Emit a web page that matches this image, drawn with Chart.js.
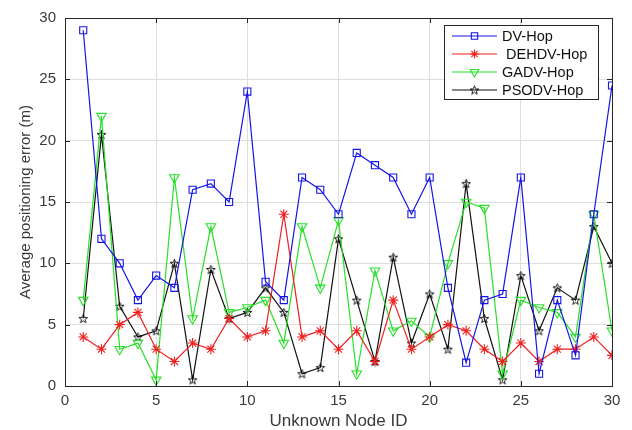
<!DOCTYPE html>
<html>
<head>
<meta charset="utf-8">
<script src="https://cdn.jsdelivr.net/npm/chart.js@4.4.0/dist/chart.umd.min.js"></script>
<style>
  html, body { margin: 0; padding: 0; background: #fff; }
  #wrap { width: 632px; height: 430px; }
</style>
</head>
<body>
<div id="wrap"><canvas id="chart"></canvas></div>
<script>
const nodeIds = [1, 2, 3, 4, 5, 6, 7, 8, 9, 10, 11, 12, 13, 14, 15, 16, 17, 18, 19, 20, 21, 22, 23, 24, 25, 26, 27, 28, 29, 30];
const dvHop = [29, 12, 10, 7, 9, 8, 16, 16.5, 15, 24, 8.5, 7, 17, 16, 14, 19, 18, 17, 14, 17, 8, 1.9, 7, 7.5, 17, 1, 7, 2.5, 14, 24.5];
const dehdvHop = [4, 3, 5, 6, 3, 2, 3.5, 3, 5.5, 4, 4.5, 14, 4, 4.5, 3, 4.5, 2, 7, 3, 4, 5, 4.5, 3, 2, 3.5, 2, 3, 3, 4, 2.5];
const gadvHop = [7, 22, 3, 3.5, 0.5, 17, 5.5, 13, 6, 6.4, 7, 3.5, 13, 8, 13.5, 1, 9.4, 4.5, 5.3, 4, 10, 15, 14.5, 1, 7, 6.4, 6, 4, 14, 4.5];
const psodvHop = [5.5, 20.5, 6.5, 4, 4.5, 10, 0.5, 9.5, 5.5, 6, 8, 6, 1, 1.5, 12, 7, 2, 10.5, 3.5, 7.5, 3, 16.5, 5.5, 0.5, 9, 4.5, 8, 7, 13, 10];
const seriesNames = ["DV-Hop", " DEHDV-Hop", "GADV-Hop", "PSODV-Hop"];

const axisColor = "#262626";
const textColor = "#3a3a3a";
const fontFamily = "'Liberation Sans', Arial, sans-serif";

// pentagram marker (unfilled), like matlab 'p'
function makePentagram(color) {
  const cv = document.createElement("canvas");
  cv.width = 11; cv.height = 11;
  const c = cv.getContext("2d");
  c.strokeStyle = color;
  c.lineWidth = 0.9;
  c.beginPath();
  for (let i = 0; i < 10; i++) {
    const r = i % 2 === 0 ? 4.6 : 1.9;
    const a = -Math.PI / 2 + i * Math.PI / 5;
    const px = 5.5 + r * Math.cos(a), py = 5.9 + r * Math.sin(a);
    if (i === 0) c.moveTo(px, py); else c.lineTo(px, py);
  }
  c.closePath();
  c.stroke();
  return cv;
}
const pentagram = makePentagram("#000");

const toPoints = (arr) => nodeIds.map((id, i) => ({ x: id, y: arr[i] }));

const styles = [
  { color: "#1414e6", pointStyle: "rect", radius: 5, rotation: 0 },
  { color: "#f01e1e", pointStyle: "star", radius: 5, rotation: 0 },
  { color: "#28e028", pointStyle: "triangle", radius: 5.5, rotation: 180 },
  { color: "#111111", pointStyle: pentagram, radius: 5, rotation: 0 },
];
const values = [dvHop, dehdvHop, gadvHop, psodvHop];

const datasets = values.map((v, i) => ({
  label: seriesNames[i].trim(),
  data: toPoints(v),
  borderColor: styles[i].color,
  backgroundColor: "rgba(0,0,0,0)",
  borderWidth: 1.2,
  pointStyle: styles[i].pointStyle,
  pointRadius: styles[i].radius,
  pointRotation: styles[i].rotation,
  pointBorderWidth: 1.1,
  pointBorderColor: styles[i].color,
  pointBackgroundColor: "rgba(0,0,0,0)",
  tension: 0,
}));

// axes box, inward ticks and the legend box
const boxPlugin = {
  id: "boxPlugin",
  afterDraw(chart) {
    const { ctx, chartArea: a } = chart;
    const xs = chart.scales.x, ys = chart.scales.y;
    ctx.save();
    ctx.strokeStyle = axisColor;
    ctx.lineWidth = 1;
    ctx.strokeRect(Math.round(a.left) + 0.5, Math.round(a.top) + 0.5,
      Math.round(a.right - a.left), Math.round(a.bottom - a.top));
    ctx.beginPath();
    xs.ticks.forEach((t) => {
      const px = Math.round(xs.getPixelForValue(t.value)) + 0.5;
      ctx.moveTo(px, a.bottom); ctx.lineTo(px, a.bottom - 5);
      ctx.moveTo(px, a.top); ctx.lineTo(px, a.top + 5);
    });
    ys.ticks.forEach((t) => {
      const py = Math.round(ys.getPixelForValue(t.value)) + 0.5;
      ctx.moveTo(a.left, py); ctx.lineTo(a.left + 5, py);
      ctx.moveTo(a.right, py); ctx.lineTo(a.right - 5, py);
    });
    ctx.stroke();

    // legend
    const lx = 444, ly = 25, lw = 154, lh = 74;
    ctx.fillStyle = "#fff";
    ctx.fillRect(lx, ly, lw, lh);
    ctx.strokeStyle = axisColor;
    ctx.strokeRect(lx + 0.5, ly + 0.5, lw, lh);
    ctx.font = "14.5px " + fontFamily;
    ctx.textBaseline = "middle";
    ctx.textAlign = "left";
    seriesNames.forEach((name, i) => {
      const cy = ly + 11 + i * 18;
      const st = styles[i];
      ctx.strokeStyle = st.color;
      ctx.lineWidth = 1.2;
      ctx.beginPath();
      ctx.moveTo(452, cy); ctx.lineTo(497, cy);
      ctx.stroke();
      ctx.fillStyle = "rgba(0,0,0,0)";
      ctx.lineWidth = 1.1;
      Chart.helpers.drawPoint(ctx, {
        pointStyle: st.pointStyle, radius: st.radius - 0.5,
        rotation: st.rotation, borderWidth: 1.1,
      }, 474.5, cy);
      ctx.fillStyle = "#111";
      ctx.fillText(name, 502, cy + 1);
    });
    ctx.restore();
  },
};

new Chart(document.getElementById("chart"), {
  type: "line",
  data: { datasets: datasets },
  options: {
    responsive: true,
    maintainAspectRatio: false,
    animation: false,
    layout: { padding: { left: 0, right: 20, top: 14, bottom: 0 } },
    plugins: {
      legend: { display: false },
      tooltip: { enabled: false },
    },
    scales: {
      x: {
        type: "linear",
        min: 0,
        max: 30,
        ticks: { stepSize: 5, color: textColor, padding: 6, font: { size: 15, family: fontFamily } },
        grid: { color: "#dedede", drawTicks: false },
        border: { display: false },
        title: {
          display: true,
          text: "Unknown Node ID",
          color: textColor,
          font: { size: 17, family: fontFamily, lineHeight: 1 },
          padding: { top: 0, bottom: 0 },
        },
        afterFit: (s) => { s.height = 44; },
      },
      y: {
        min: 0,
        max: 30,
        ticks: { stepSize: 5, color: textColor, padding: 9, font: { size: 15, family: fontFamily } },
        grid: { color: "#dedede", drawTicks: false },
        border: { display: false },
        title: {
          display: true,
          text: "Average positioning error (m)",
          color: textColor,
          font: { size: 15, family: fontFamily },
          padding: { top: 17, bottom: 0 },
        },
        afterFit: (s) => { s.width = 65; },
      },
    },
  },
  plugins: [boxPlugin],
});
</script>
</body>
</html>
